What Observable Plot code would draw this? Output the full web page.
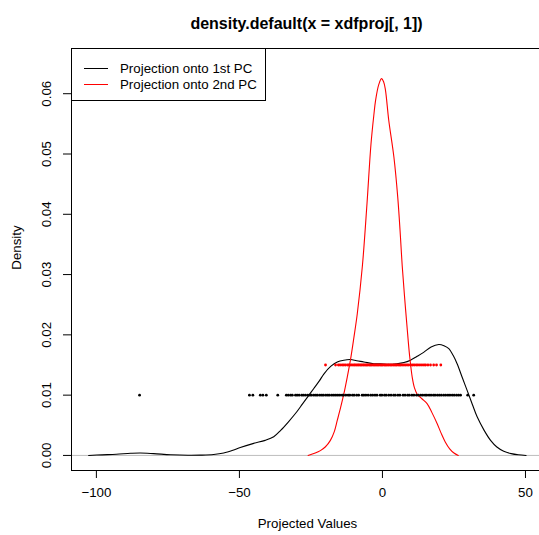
<!DOCTYPE html>
<html>
<head>
<meta charset="utf-8">
<script src="https://cdn.jsdelivr.net/npm/d3@7"></script>
<script src="https://cdn.jsdelivr.net/npm/@observablehq/plot@0.6"></script>
<style>
  html, body { margin: 0; padding: 0; background: white; overflow: hidden; }
  #wrap { position: relative; width: 539px; height: 535px; font-family: "Liberation Sans", Arial, Helvetica, sans-serif; }
  #legend { position: absolute; left: 71px; top: 48px; width: 195px; height: 53px; box-sizing: border-box;
            border: 1px solid #000; background: white; font-size: 13.3px; color: #000; }
  .row { position: absolute; left: 0; height: 16px; display: flex; align-items: center; }
  .row .ln { position: absolute; left: 12px; width: 24px; height: 0; border-top: 1px solid; }
  .row .tx { position: absolute; left: 48px; white-space: nowrap; }
</style>
</head>
<body>
<div id="wrap"></div>
<script>
// ---- data ----
const title = "density.default(x = xdfproj[, 1])";
const xLabel = "Projected Values";
const yLabel = "Density";
const legendLabels = ["Projection onto 1st PC", "Projection onto 2nd PC"];
const seriesColors = ["#000000", "#ff0000"];

const xTicks = [-100, -50, 0, 50];
const yTicks = [0, 0.01, 0.02, 0.03, 0.04, 0.05, 0.06];

// density of projection onto 1st PC
const pc1X = [-102.7, -98, -93, -88, -84.6, -80, -74, -68, -63.6, -59, -55.5, -52, -49.7, -45, -41, -38, -35.5, -33, -30, -28, -26, -24, -22, -20.5, -18, -15.8, -13.5, -11.2, -9, -6.5, -3, -0.7, 2, 5, 7.5, 9.8, 12, 14.4, 17, 19.7, 21.5, 23.2, 24.7, 26.1, 28, 29.6, 31.4, 33.1, 35.5, 37.8, 40, 42.4, 45, 47.5, 50.2];
const pc1Y = [0, 0.0001, 0.0002, 0.00035, 0.0004, 0.0003, 0.00012, 0.00003, 0.00005, 0.00015, 0.0004, 0.0009, 0.0013, 0.002, 0.0025, 0.0031, 0.0042, 0.0055, 0.0072, 0.0085, 0.0098, 0.0111, 0.0124, 0.0135, 0.0148, 0.0155, 0.0158, 0.0159, 0.0157, 0.0155, 0.0152, 0.0152, 0.0151, 0.0152, 0.0154, 0.0158, 0.0164, 0.0171, 0.018, 0.0184, 0.0182, 0.0177, 0.0166, 0.0152, 0.0128, 0.0108, 0.0085, 0.0064, 0.0042, 0.0025, 0.0014, 0.0007, 0.0003, 0.0001, 0];

// density of projection onto 2nd PC
const pc2X = [-26, -23.5, -21.7, -20, -18.2, -16.8, -15.8, -14.6, -13.5, -12.3, -11.2, -10, -8.8, -7, -5.4, -4, -3, -2.4, -1.3, -0.35, 0.4, 1.05, 2.2, 4, 5.35, 6.3, 6.9, 7.7, 8.6, 9.5, 10.4, 11.2, 12.1, 13.8, 15.6, 17.3, 19.1, 20.5, 22, 23.5, 25, 26.5];
const pc2Y = [0, 0.0004, 0.0008, 0.0014, 0.0025, 0.004, 0.0058, 0.008, 0.0102, 0.013, 0.0158, 0.0195, 0.0235, 0.0315, 0.0418, 0.0517, 0.0565, 0.0589, 0.0615, 0.0625, 0.062, 0.0606, 0.0556, 0.0495, 0.0428, 0.0362, 0.0315, 0.0265, 0.0213, 0.0165, 0.013, 0.0112, 0.0102, 0.0094, 0.0086, 0.0071, 0.0053, 0.0037, 0.0022, 0.0011, 0.0004, 0];

// observed projections (drawn as points at fixed heights)
const pc1Level = 0.01;
const pc2Level = 0.015;
const pc1Points = [-84.9, -46.5, -45.3, -42.7, -41.8, -40.6, -36.6, -33.6, -32.9, -32.1, -31.5, -30.4, -29.8, -29.1, -28.2, -27.6, -26.9, -26.1, -25.4, -24.8, -24.0, -23.3, -22.7, -21.9, -21.2, -20.6, -19.8, -19.1, -18.5, -17.7, -17.0, -16.3, -15.6, -14.9, -14.1, -13.6, -12.8, -12.0, -11.4, -10.5, -9.9, -9.0, -8.3, -7.1, -6.5, -5.8, -5.0, -4.1, -3.4, -2.6, -1.9, -0.8, -0.2, 0.7, 1.3, 2.2, 3.0, 3.9, 4.5, 5.4, 6.1, 7.2, 7.9, 8.8, 9.4, 10.3, 11.0, 11.9, 12.6, 13.4, 14.1, 14.9, 15.5, 16.3, 17.0, 17.8, 18.4, 19.2, 19.9, 20.6, 21.4, 22.1, 22.9, 23.6, 24.4, 25.1, 25.9, 26.6, 27.3, 29.8, 31.9];
const pc2Points = [-19.9, -16.4, -15.4, -14.8, -14.1, -13.5, -12.9, -12.2, -11.7, -11.1, -10.6, -10.0, -9.6, -9.1, -8.6, -8.2, -7.7, -7.3, -6.8, -6.4, -5.9, -5.5, -5.1, -4.6, -4.2, -3.8, -3.3, -2.9, -2.5, -2.0, -1.6, -1.2, -0.7, -0.3, 0.1, 0.6, 1.0, 1.4, 1.9, 2.3, 2.8, 3.2, 3.7, 4.1, 4.6, 5.0, 5.5, 6.0, 6.4, 6.9, 7.5, 8.0, 8.6, 9.2, 9.9, 10.5, 11.1, 11.8, 12.4, 13.1, 13.8, 14.5, 15.1, 15.9, 16.8, 17.9, 18.9, 20.4];

const xDomain = [-108.7, 54.9];
const yDomain = [-0.0025, 0.0675];

// ---- build ----
const pc1 = pc1X.map((x, i) => ({x, y: pc1Y[i]}));
const pc2 = pc2X.map((x, i) => ({x, y: pc2Y[i]}));
const font = '"Liberation Sans", Arial, Helvetica, sans-serif';
const fmtX = d => (d < 0 ? "\u2212" : "") + Math.abs(d);

const chart = Plot.plot({
  width: 539,
  height: 535,
  marginLeft: 71,
  marginRight: 0,
  marginTop: 48,
  marginBottom: 65,
  x: {domain: xDomain},
  y: {domain: yDomain},
  style: {fontFamily: font, fontSize: "13.3px", background: "white", color: "black"},
  marks: [
    Plot.ruleY([0], {stroke: "#bebebe"}),
    Plot.line(pc1, {x: "x", y: "y", stroke: seriesColors[0], strokeWidth: 1.1, curve: "catmull-rom"}),
    Plot.line(pc2, {x: "x", y: "y", stroke: seriesColors[1], strokeWidth: 1.1, curve: "catmull-rom"}),
    Plot.dot(pc1Points, {x: d => d, y: () => pc1Level, r: 1.4, fill: seriesColors[0], stroke: null}),
    Plot.dot(pc2Points, {x: d => d, y: () => pc2Level, r: 1.4, fill: seriesColors[1], stroke: null}),
    // box (left, top, bottom)
    Plot.ruleX([xDomain[0]], {stroke: "black"}),
    Plot.ruleY([yDomain[0], yDomain[1]], {stroke: "black"}),
    // axes
    Plot.axisX({ticks: xTicks, tickSize: 8, tickPadding: 9, tickFormat: fmtX, label: null, fontSize: 13.3}),
    Plot.axisY({ticks: yTicks, tickSize: 8, tickFormat: () => "", label: null}),
    Plot.text(yTicks, {y: d => d, text: d => d.toFixed(2), frameAnchor: "left", textAnchor: "middle", dx: -25, rotate: -90, fontSize: 13.3, fill: "black"}),
    // labels
    Plot.text([title], {frameAnchor: "top", dy: -31, dx: 1, fontWeight: "bold", fontSize: 16, fill: "black"}),
    Plot.text([xLabel], {frameAnchor: "bottom", dy: 57, dx: 2, fontSize: 13.3, fill: "black"}),
    Plot.text([yLabel], {frameAnchor: "left", textAnchor: "middle", dx: -54.5, dy: -12, rotate: -90, fontSize: 13.3, fill: "black"})
  ]
});

const wrap = document.getElementById("wrap");
wrap.appendChild(chart);

// legend
const legend = document.createElement("div");
legend.id = "legend";
legendLabels.forEach((lab, i) => {
  const row = document.createElement("div");
  row.className = "row";
  row.style.top = (11.7 + i * 15.8) + "px";
  const ln = document.createElement("span");
  ln.className = "ln";
  ln.style.borderTopColor = seriesColors[i];
  const tx = document.createElement("span");
  tx.className = "tx";
  tx.textContent = lab;
  row.appendChild(ln);
  row.appendChild(tx);
  legend.appendChild(row);
});
wrap.appendChild(legend);
</script>
</body>
</html>
